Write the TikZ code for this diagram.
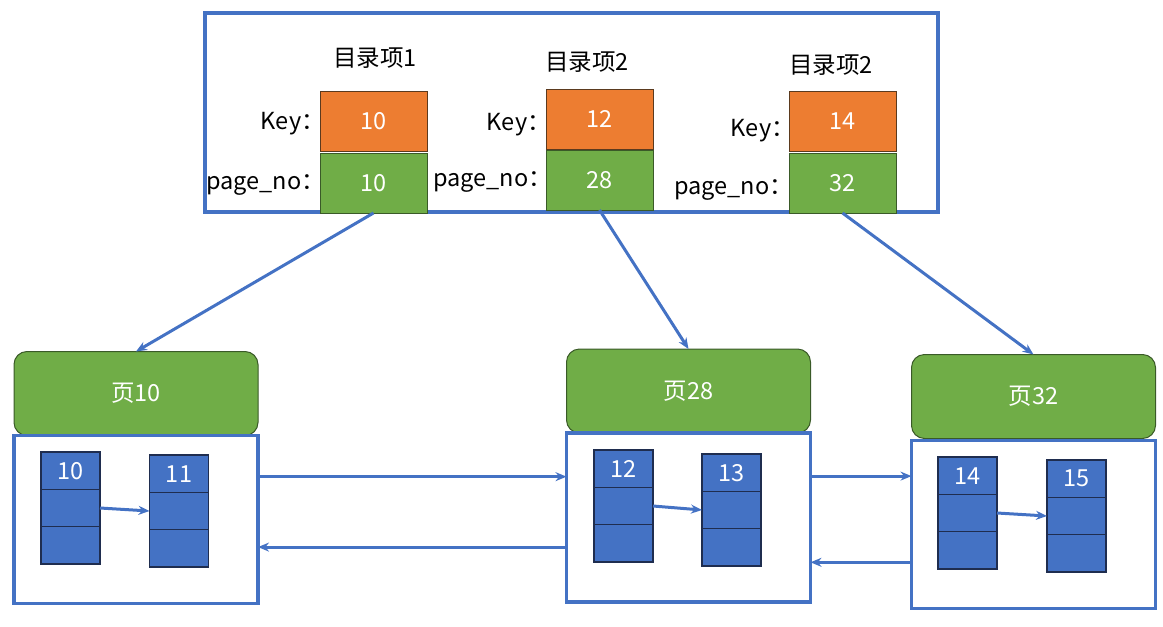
\documentclass[tikz,border=0pt]{standalone}
\usepackage{fontspec}
\setmainfont{Noto Sans CJK SC}
\usetikzlibrary{positioning,calc,arrows.meta}
\definecolor{lineblue}{HTML}{4472C4}
\definecolor{keyorange}{HTML}{ED7D31}
\definecolor{pagegreen}{HTML}{70AD47}
\definecolor{darkbrown}{HTML}{5B3A1E}
\definecolor{darkgreen}{HTML}{3A5A28}
\definecolor{darknavy}{HTML}{1F2D4F}
\tikzstyle{arrow} = [lineblue,line width=3pt,-{Stealth[length=11pt,width=9pt]}]
\tikzstyle{frame} = [draw=lineblue,line width=3.2pt,outer sep=0pt,inner sep=0pt]
\tikzstyle{keybox} = [draw=darkbrown,fill=keyorange,text=white,line width=1pt,minimum width=107,minimum height=60,outer sep=0pt]
\tikzstyle{nobox} = [draw=darkgreen,fill=pagegreen,text=white,line width=1pt,minimum width=107,minimum height=60,outer sep=0pt]
\tikzstyle{pagehead} = [draw=darkgreen,fill=pagegreen,text=white,line width=1pt,rounded corners=13pt,minimum width=244,minimum height=84,outer sep=0pt]
\tikzstyle{cell} = [draw=darknavy,fill=lineblue,text=white,line width=1.2pt,minimum width=59,minimum height=37.3,outer sep=0pt,inner sep=0pt]
\tikzstyle{label} = [inner sep=0pt]
\begin{document}
\begin{tikzpicture}[x=1pt,y=-1pt,font=\fontsize{23.5}{28}\selectfont]
\useasboundingbox (0,0) rectangle (1163,627);
% directory page
\node[frame,minimum width=733,minimum height=199] (dir) at (571.5,112.5) {};
\node[keybox] (k_1) at (373.5,121) {10};
\node[nobox,below=2pt of k_1] (n_1) {10};
\node[keybox] (k_2) at (599.5,119) {12};
\node[nobox,below=1pt of k_2] (n_2) {28};
\node[keybox] (k_3) at (842.5,121) {14};
\node[nobox,below=2pt of k_3] (n_3) {32};
\node at (375,58) {目录项1};
\node at (587,62) {目录项2};
\node at (831,65) {目录项2};
\node[label,left=-5pt of k_1,yshift=-3pt] {Key：};
\node[label,left=-5pt of n_1,yshift=-2pt] {page\_no：};
\node[label,left=-5pt of k_2,yshift=-6pt] {Key：};
\node[label,left=-6pt of n_2,yshift=-2pt] {page\_no：};
\node[label,left=-6pt of k_3,yshift=-10pt] {Key：};
\node[label,left=-4pt of n_3,yshift=-7pt] {page\_no：};
% data pages
\node[pagehead] (p10) at (136,393.5) {页10};
\node[frame,minimum width=244,minimum height=168,below=0pt of p10] (p10box) {};
\node[pagehead] (p28) at (688.5,391) {页28};
\node[frame,minimum width=244,minimum height=169,below=0pt of p28] (p28box) {};
\node[pagehead] (p32) at (1033.5,396.5) {页32};
\node[frame,minimum width=244,minimum height=168,below=2pt of p32] (p32box) {};
% records
\foreach \r/\x/\y in {10/70.5/452,11/179/455,12/623.5/450,13/731.5/454,14/967.5/457,15/1076.5/460}{
  \node[cell] (r\r_1) at (\x,\y+18.7) {\r};
  \node[cell,below=0pt of r\r_1] (r\r_2) {};
  \node[cell,below=0pt of r\r_2] (r\r_3) {};
}
\draw[arrow] (r10_2.east) -- (r11_2.west);
\draw[arrow] (r12_2.east) -- (r13_2.west);
\draw[arrow] (r14_2.east) -- (r15_2.west);
% page links
\draw[arrow] ($(p10box.north east)!0.245!(p10box.south east)$) coordinate (a) -- (a -| p28box.west);
\draw[arrow] ($(p28box.north west)!0.675!(p28box.south west)$) coordinate (b) -- (b -| p10box.east);
\draw[arrow] ($(p28box.north east)!0.255!(p28box.south east)$) coordinate (c) -- (c -| p32box.west);
\draw[arrow] ($(p32box.north west)!0.725!(p32box.south west)$) coordinate (d) -- (d -| p28box.east);
% directory to pages
\draw[arrow] (n_1.south) -- (p10.north);
\draw[arrow] (n_2.south) -- (p28.north);
\draw[arrow] (n_3.south) -- (p32.north);
\end{tikzpicture}
\end{document}
